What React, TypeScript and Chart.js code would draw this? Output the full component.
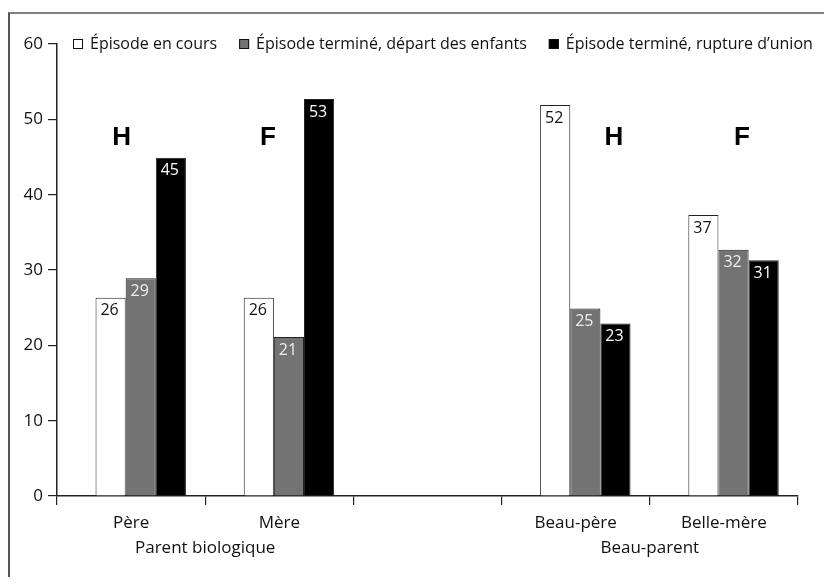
import React, { useEffect, useRef } from "react";
import { Chart, registerables } from "chart.js";

Chart.register(...registerables);

const categories = ["Père", "Mère", "", "Beau-père", "Belle-mère"];
const seriesNames = [
  "Épisode en cours",
  "Épisode terminé, départ des enfants",
  "Épisode terminé, rupture d\u2019union",
];
const enCours = [26.3, 26.3, null, 51.9, 37.3];
const departEnfants = [28.9, 21.1, null, 24.9, 32.7];
const ruptureUnion = [44.9, 52.7, null, 22.9, 31.3];
const enCoursLabels = ["26", "26", "", "52", "37"];
const departLabels = ["29", "21", "", "25", "32"];
const ruptureLabels = ["45", "53", "", "23", "31"];
const yTicks = [0, 10, 20, 30, 40, 50, 60];
const groupLabels = ["Parent biologique", "Beau-parent"];
const groupFirst = [0, 3];
const groupLast = [1, 4];
const sexLetters = ["H", "F", "H", "F"];
const sexCategory = [0, 1, 3, 4];

const FONT = "'Open Sans', 'Noto Sans', sans-serif";
const fills = ["#ffffff", "#737373", "#000000"];
const labelColors = ["#111111", "#eeeeee", "#ffffff"];
const sexShift = [-0.064, -0.076, 0.258, 0.122];
const sexY = 47.5;
const barShift = 0.065; // bars drawn slightly right of category centres, as in the source

export default function App() {
  const ref = useRef<HTMLCanvasElement | null>(null);
  useEffect(() => {
    if (!ref.current) return;
    const valueLabels = [enCoursLabels, departLabels, ruptureLabels];
    const extras = {
      id: "extras",
      afterDatasetsDraw(chart: any) {
        const ctx = chart.ctx;
        ctx.save();
        ctx.font = `16px ${FONT}`;
        ctx.textAlign = "center";
        ctx.textBaseline = "middle";
        chart.data.datasets.forEach((ds: any, di: number) => {
          const meta = chart.getDatasetMeta(di);
          meta.data.forEach((bar: any, i: number) => {
            const lab = valueLabels[di][i];
            if (!lab || ds.data[i].y == null) return;
            ctx.fillStyle = labelColors[di];
            ctx.fillText(lab, bar.x - 1, bar.y + 13);
          });
        });
        const xs = chart.scales.x;
        const ys = chart.scales.y;
        ctx.font = `bold 26px 'Liberation Sans', Arial, sans-serif`;
        ctx.fillStyle = "#000";
        sexLetters.forEach((t, i) => {
          const x = xs.getPixelForValue(sexCategory[i] + sexShift[i]);
          const y = ys.getPixelForValue(sexY);
          ctx.fillText(t, x, y);
        });
        ctx.font = `17px ${FONT}`;
        ctx.fillStyle = "#111";
        groupLabels.forEach((t, i) => {
          const x =
            (xs.getPixelForValue(groupFirst[i]) + xs.getPixelForValue(groupLast[i])) / 2;
          ctx.fillText(t, x, 534);
        });
        ctx.font = `16px ${FONT}`;
        ctx.textAlign = "left";
        let lx = 63;
        const ly = 30;
        chart.data.datasets.forEach((ds: any, di: number) => {
          ctx.fillStyle = fills[di];
          ctx.fillRect(lx, ly - 5, 10, 10);
          ctx.strokeStyle = "#111";
          ctx.lineWidth = 1;
          ctx.strokeRect(lx + 0.5, ly - 4.5, 9, 9);
          ctx.fillStyle = "#111";
          ctx.fillText(ds.label, lx + 17, ly);
          lx += 17 + ctx.measureText(ds.label).width + 22;
        });
        ctx.restore();
      },
    };
    const chart = new Chart(ref.current, {
      type: "bar",
      data: {
        labels: categories,
        datasets: [enCours, departEnfants, ruptureUnion].map((d, i) => ({
          label: seriesNames[i],
          data: d.map((v, k) => ({ x: k, y: v })),
          xAxisID: "xb",
          backgroundColor: fills[i],
          borderColor: "#222",
          borderWidth: 1,
          categoryPercentage: 0.61,
          barPercentage: 1.0,
        })),
      },
      options: {
        animation: false,
        responsive: false,
        parsing: { xAxisKey: "x", yAxisKey: "y" },
        layout: { padding: { left: 0, top: 30, right: 26, bottom: 0 } },
        plugins: {
          legend: { display: false },
          tooltip: { enabled: false },
          title: { display: false },
        },
        scales: {
          x: {
            type: "category",
            labels: categories,
            grid: {
              display: true,
              offset: true,
              drawOnChartArea: false,
              drawTicks: true,
              tickLength: 9,
              color: "#222",
              lineWidth: 1.2,
            },
            border: { display: true, color: "#222", width: 1.5 },
            ticks: {
              color: "#111",
              font: { family: FONT, size: 17 },
              padding: 8,
              maxRotation: 0,
              autoSkip: false,
            },
            afterFit: (s: any) => {
              s.height = 81;
            },
          },
          xb: {
            type: "linear",
            display: false,
            offset: false,
            grid: { offset: false },
            position: "bottom",
            min: -0.5 - barShift,
            max: 4.5 - barShift,
            ticks: { stepSize: 1, includeBounds: false },
          },
          y: {
            min: 0,
            max: 60,
            afterBuildTicks: (s: any) => {
              s.ticks = yTicks.map((v) => ({ value: v }));
            },
            grid: {
              display: true,
              drawOnChartArea: false,
              drawTicks: true,
              tickLength: 9,
              color: "#222",
              lineWidth: 1.2,
            },
            border: { display: true, color: "#222", width: 1.5 },
            ticks: {
              color: "#111",
              font: { family: FONT, size: 17 },
              padding: 5,
            },
            afterFit: (s: any) => {
              s.width = 47;
            },
          },
        },
      } as any,
      plugins: [extras],
    });
    return () => chart.destroy();
  }, []);
  return (
    <div style={{ paddingTop: 4 }}>
      <div
        style={{
          width: 816,
          height: 565,
          boxSizing: "border-box",
          borderTop: "2px solid #808080",
          borderLeft: "2px solid #555",
          overflow: "hidden",
          background: "#fff",
        }}
      >
        <canvas ref={ref} width={814} height={563} style={{ display: "block" }} />
      </div>
    </div>
  );
}
